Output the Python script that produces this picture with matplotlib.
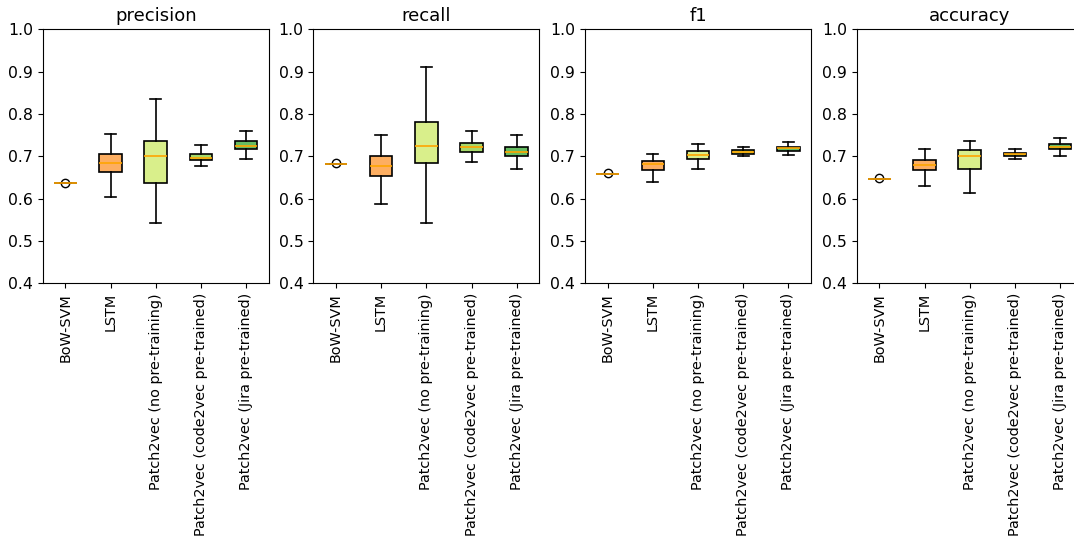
import matplotlib
matplotlib.use('Agg')
import matplotlib.pyplot as plt

# box stats: whislo, q1, med, q3, whishi, flier
models = ['BoW-SVM', 'LSTM', 'Patch2vec (no pre-training)',
          'Patch2vec (code2vec pre-trained)', 'Patch2vec (Jira pre-trained)']
metrics = ['precision', 'recall', 'f1', 'accuracy']

precision = [
    [0.636, 0.636, 0.636, 0.636, 0.636, 0.638],
    [0.603, 0.662, 0.685, 0.706, 0.753, None],
    [0.543, 0.638, 0.700, 0.735, 0.835, None],
    [0.678, 0.691, 0.696, 0.706, 0.726, None],
    [0.693, 0.717, 0.725, 0.737, 0.759, None],
]
recall = [
    [0.682, 0.682, 0.682, 0.682, 0.682, 0.684],
    [0.588, 0.654, 0.677, 0.700, 0.750, None],
    [0.543, 0.683, 0.724, 0.780, 0.912, None],
    [0.686, 0.711, 0.723, 0.731, 0.760, None],
    [0.671, 0.700, 0.711, 0.722, 0.750, None],
]
f1 = [
    [0.658, 0.658, 0.658, 0.658, 0.658, 0.660],
    [0.639, 0.667, 0.682, 0.688, 0.706, None],
    [0.669, 0.693, 0.703, 0.713, 0.730, None],
    [0.700, 0.706, 0.710, 0.714, 0.722, None],
    [0.702, 0.713, 0.719, 0.723, 0.733, None],
]
accuracy = [
    [0.646, 0.646, 0.646, 0.646, 0.646, 0.648],
    [0.631, 0.667, 0.680, 0.691, 0.717, None],
    [0.614, 0.669, 0.700, 0.715, 0.737, None],
    [0.694, 0.701, 0.705, 0.708, 0.717, None],
    [0.700, 0.718, 0.723, 0.728, 0.743, None],
]
colors = ['#f46d43', '#fdae61', '#d9ef8b', '#a6d96a', '#66bd63']

fig = plt.figure(figsize=(10.74, 5.46), dpi=100)
lefts = [42.7, 313.3, 585, 856.7]

for i, (name, data) in enumerate(zip(metrics, [precision, recall, f1, accuracy])):
    ax = fig.add_axes([lefts[i] / 1074, 262.7 / 546, 226 / 1074, 254 / 546])
    stats = []
    for lab, row in zip(models, data):
        stats.append({'label': lab, 'whislo': row[0], 'q1': row[1], 'med': row[2],
                      'q3': row[3], 'whishi': row[4],
                      'fliers': [row[5]] if row[5] is not None else []})
    bp = ax.bxp(stats, patch_artist=True, widths=0.5,
                medianprops=dict(color='orange', linewidth=1.2),
                boxprops=dict(edgecolor='black', linewidth=1.2),
                whiskerprops=dict(linewidth=1.2),
                capprops=dict(linewidth=1.2),
                flierprops=dict(marker='o', markerfacecolor='none', markersize=6))
    for patch, c in zip(bp['boxes'], colors):
        patch.set_facecolor(c)
    ax.set_ylim(0.4, 1.0)
    ax.set_title(name, fontsize=13)
    ax.tick_params(axis='y', labelsize=11.3)
    ax.tick_params(axis='x', labelsize=10.4, labelrotation=90)

plt.savefig('out.png', dpi=100)
